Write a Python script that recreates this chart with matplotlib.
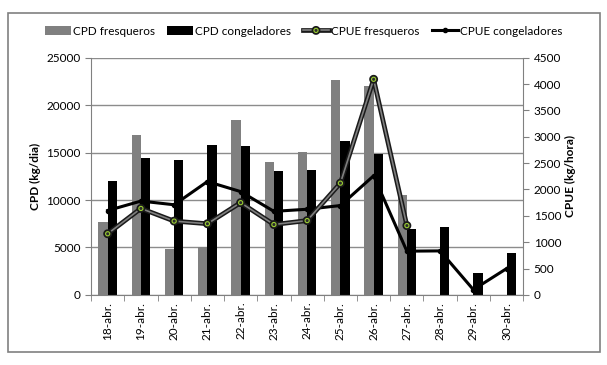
import matplotlib
matplotlib.use('Agg')
import matplotlib.pyplot as plt
import matplotlib.patheffects as pe
from matplotlib.patches import Rectangle
import numpy as np

plt.rcParams['font.family'] = ['Lato', 'DejaVu Sans']

dias = ['18-abr.', '19-abr.', '20-abr.', '21-abr.', '22-abr.', '23-abr.', '24-abr.',
        '25-abr.', '26-abr.', '27-abr.', '28-abr.', '29-abr.', '30-abr.']

# CPD (kg/dia)
cpd_fresq = [7700, 16800, 4800, 5000, 18400, 14050, 15050, 22650, 22000, 10500, 0, 0, 0]
cpd_cong = [12050, 14400, 14200, 15850, 15650, 13100, 13150, 16250, 14900, 6900, 7200, 2300, 4450]

# CPUE (kg/hora)
cpue_fresq = [1160, 1640, 1400, 1350, 1750, 1335, 1410, 2120, 4090, 1315]
cpue_cong = [1600, 1780, 1710, 2150, 1960, 1585, 1625, 1695, 2260, 830, 835, 100, 500]

x = np.arange(len(dias))
w = 0.28

fig = plt.figure(figsize=(6.07, 3.65), dpi=100)
ax = fig.add_axes([0.150, 0.192, 0.712, 0.650])

# grey outer frame
fig.patches.append(Rectangle((0.013, 0.035), 0.976, 0.93, transform=fig.transFigure,
                             fill=False, edgecolor='#808080', linewidth=1.2))

b1 = ax.bar(x - w / 2, cpd_fresq, w, color='#808080', label='CPD fresqueros', zorder=2)
b2 = ax.bar(x + w / 2, cpd_cong, w, color='black', label='CPD congeladores', zorder=2)

ax.set_xlim(-0.5, len(dias) - 0.5)
ax.set_ylim(0, 25000)
ax.set_yticks(range(0, 25001, 5000))
ax.yaxis.grid(True, color='#8c8c8c', linewidth=1)
ax.set_axisbelow(True)
ax.set_xticks(x)
ax.set_xticklabels(dias, rotation=90, fontsize=8.5)
ax.set_xticks(np.arange(-0.5, len(dias), 1), minor=True)
ax.tick_params(axis='x', which='major', length=0, pad=5)
ax.tick_params(axis='x', which='minor', length=4, color='#808080')
ax.tick_params(axis='y', labelsize=8.5, length=4, color='#808080')
ax.set_ylabel('CPD (kg/dia)', fontweight='bold', fontsize=8.5)
for s in ['top', 'right']:
    ax.spines[s].set_visible(False)
for s in ['left', 'bottom']:
    ax.spines[s].set_color('#808080')

ax2 = ax.twinx()
ax2.set_ylim(0, 4500)
ax2.set_yticks(range(0, 4501, 500))
ax2.tick_params(axis='y', labelsize=8.5, length=4, color='#808080')
ax2.set_ylabel('CPUE (kg/hora)', fontweight='bold', fontsize=8.5, labelpad=3)
for s in ['top', 'left', 'bottom']:
    ax2.spines[s].set_visible(False)
ax2.spines['right'].set_color('#808080')

l1, = ax2.plot(x[:len(cpue_fresq)], cpue_fresq, color='#7f7f7f', linewidth=1.2,
               marker='o', markersize=3, markerfacecolor='#2b2b2b',
               markeredgecolor='#9acd32', markeredgewidth=0.8,
               path_effects=[pe.Stroke(linewidth=3.4, foreground='#1a1a1a'), pe.Normal()],
               label='CPUE fresqueros', zorder=4)
l2, = ax2.plot(x, cpue_cong, color='black', linewidth=2.2, marker='o', markersize=3,
               label='CPUE congeladores', zorder=3)

fig.legend([b1, b2, l1, l2], [h.get_label() for h in [b1, b2, l1, l2]],
           loc='center', bbox_to_anchor=(0.5, 0.915), ncol=4, frameon=False,
           fontsize=8.5, handlelength=2.2, handletextpad=0.2, columnspacing=1.0)

plt.savefig('out.png', dpi=100)
